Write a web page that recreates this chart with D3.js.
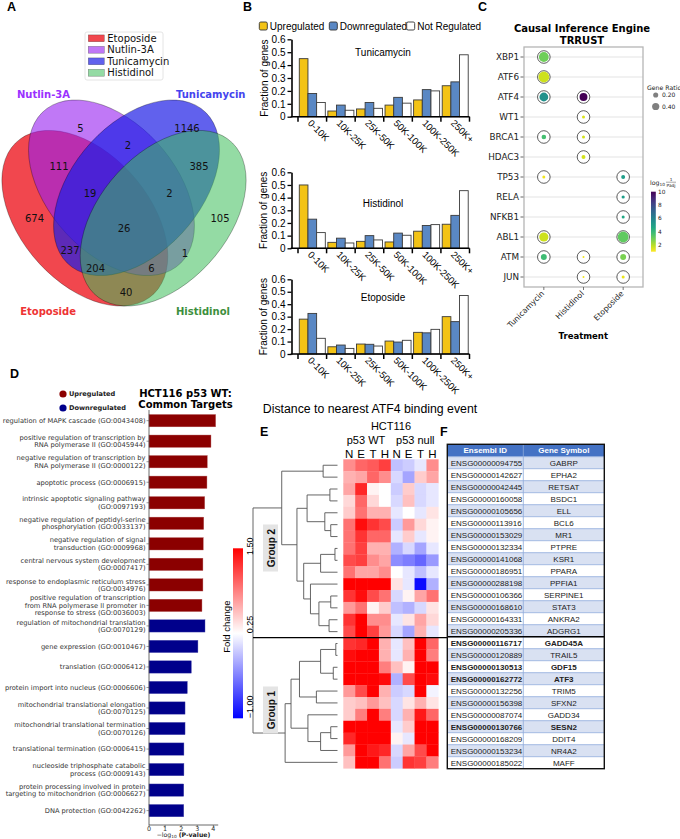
<!DOCTYPE html>
<html><head><meta charset="utf-8">
<script src="https://cdn.jsdelivr.net/npm/d3@7/dist/d3.min.js"></script>
<style>html,body{margin:0;padding:0;background:#fff;}svg{display:block;}</style>
</head><body>
<svg id="fig" width="680" height="839" xmlns="http://www.w3.org/2000/svg"></svg>
<script>
// ===================== DATA =====================
// Panel A – Venn
const vennSetNames = ["Etoposide", "Nutlin-3A", "Tunicamycin", "Histidinol"];
const vennRegions = ["1000","0100","0010","0001","1100","0110","0011","1110","0111","1111","1010","0101","1011","1101","1001"];
const vennCounts  = [674, 5, 1146, 105, 111, 2, 385, 19, 2, 26, 237, 1, 204, 6, 40];

// Panel B – distance bins
const distBins = ["0-10K", "10K-25K", "25K-50K", "50K-100K", "100K-250K", "250K+"];
const regClasses = ["Upregulated", "Downregulated", "Not Regulated"];
const tunUp   = [0.45, 0.044, 0.06, 0.09, 0.13, 0.24];
const tunDown = [0.18, 0.09, 0.11, 0.15, 0.21, 0.27];
const tunNot  = [0.11, 0.05, 0.065, 0.105, 0.20, 0.48];
const hisUp   = [0.50, 0.047, 0.055, 0.05, 0.135, 0.19];
const hisDown = [0.23, 0.08, 0.10, 0.12, 0.18, 0.26];
const hisNot  = [0.124, 0.042, 0.066, 0.103, 0.187, 0.455];
const etoUp   = [0.28, 0.058, 0.08, 0.104, 0.174, 0.30];
const etoDown = [0.326, 0.072, 0.078, 0.096, 0.17, 0.26];
const etoNot  = [0.126, 0.045, 0.064, 0.11, 0.198, 0.47];
const bTicks = [0, 0.1, 0.2, 0.3, 0.4, 0.5, 0.6];

// Panel C – TRRUST dot plot
const tfGenes = ["XBP1","ATF6","ATF4","WT1","BRCA1","HDAC3","TP53","RELA","NFKB1","ABL1","ATM","JUN"];
const treatments = ["Tunicamycin", "Histidinol", "Etoposide"];
const dotGene  = ["XBP1","ATF6","ATF4","ATF4","WT1","BRCA1","BRCA1","HDAC3","TP53","TP53","RELA","NFKB1","ABL1","ABL1","ATM","ATM","ATM","JUN","JUN"];
const dotTreat = ["Tunicamycin","Tunicamycin","Tunicamycin","Histidinol","Histidinol","Tunicamycin","Histidinol","Histidinol","Tunicamycin","Etoposide","Etoposide","Etoposide","Tunicamycin","Etoposide","Tunicamycin","Histidinol","Etoposide","Histidinol","Etoposide"];
const dotRatio = [0.74, 0.90, 0.60, 0.48, 0.07, 0.16, 0.07, 0.12, 0.07, 0.12, 0.08, 0.07, 0.65, 0.90, 0.27, 0.03, 0.27, 0.03, 0.07];
const dotLogP  = [3.0, 1.7, 5.5, 10.0, 1.5, 3.7, 1.6, 1.6, 1.2, 5.0, 5.0, 4.6, 1.7, 3.2, 3.8, 1.2, 2.8, 1.2, 1.3];
const ratioLegend = [0.20, 0.40];
const logPTicks = [2, 4, 6, 8, 10];

// Panel D – GO terms
const goTerms = [
  "regulation of MAPK cascade (GO:0043408)",
  "positive regulation of transcription by\nRNA polymerase II (GO:0045944)",
  "negative regulation of transcription by\nRNA polymerase II (GO:0000122)",
  "apoptotic process (GO:0006915)",
  "intrinsic apoptotic signaling pathway\n(GO:0097193)",
  "negative regulation of peptidyl-serine\nphosphorylation (GO:0033137)",
  "negative regulation of signal\ntransduction (GO:0009968)",
  "central nervous system development\n(GO:0007417)",
  "response to endoplasmic reticulum stress\n(GO:0034976)",
  "positive regulation of transcription\nfrom RNA polymerase II promoter in\nresponse to stress (GO:0036003)",
  "regulation of mitochondrial translation\n(GO:0070129)",
  "gene expression (GO:0010467)",
  "translation (GO:0006412)",
  "protein import into nucleus (GO:0006606)",
  "mitochondrial translational elongation\n(GO:0070125)",
  "mitochondrial translational termination\n(GO:0070126)",
  "translational termination (GO:0006415)",
  "nucleoside triphosphate catabolic\nprocess (GO:0009143)",
  "protein processing involved in protein\ntargeting to mitochondrion (GO:0006627)",
  "DNA protection (GO:0042262)"
];
const goDir = ["Upregulated","Upregulated","Upregulated","Upregulated","Upregulated","Upregulated","Upregulated","Upregulated","Upregulated","Upregulated",
               "Downregulated","Downregulated","Downregulated","Downregulated","Downregulated","Downregulated","Downregulated","Downregulated","Downregulated","Downregulated"];
const goLogP = [4.14, 3.85, 3.62, 3.60, 3.46, 3.40, 3.37, 3.35, 3.35, 3.29, 3.48, 3.04, 2.63, 2.38, 2.24, 2.24, 2.17, 2.17, 2.16, 2.16];
const dTicks = [0, 1, 2, 3, 4];

// Panel E – heatmap (fold change), columns N E T H (p53 WT) | N E T H (p53 null)
const heatCols = ["N","E","T","H","N","E","T","H"];
const foldChange = [
  [0.81,1.00,1.06,1.19,-0.06,0.00,0.13,0.81],
  [0.63,0.69,1.00,0.81,0.06,-0.19,0.50,0.69],
  [0.69,1.31,0.31,0.25,0.00,0.50,0.06,0.13],
  [0.44,1.00,0.44,0.25,0.06,0.56,0.06,0.13],
  [0.50,0.94,0.63,0.63,0.13,0.25,0.13,0.38],
  [0.94,1.44,1.25,1.13,0.00,0.75,0.44,0.31],
  [0.94,1.25,1.00,1.00,0.13,0.50,0.13,0.31],
  [0.94,1.19,0.63,0.63,-0.13,0.06,-0.19,0.13],
  [1.13,1.19,0.81,0.69,-0.31,-0.38,-0.50,-0.25],
  [0.94,0.69,0.69,0.81,0.25,0.13,-0.06,0.13],
  [1.60,1.60,1.60,1.60,0.38,0.13,-0.94,-0.13],
  [1.25,1.44,1.13,0.94,0.06,0.31,0.69,0.94],
  [0.75,0.94,0.31,0.50,-0.06,-0.13,0.06,0.38],
  [1.25,1.60,0.81,0.81,0.13,0.38,0.69,0.44],
  [1.13,1.60,1.19,0.75,0.06,-0.19,0.63,0.13],
  [1.25,1.31,1.60,0.63,0.13,0.56,1.60,1.00],
  [1.44,1.60,1.60,0.63,0.13,0.63,1.60,0.88],
  [1.60,1.60,1.60,0.88,0.56,0.31,1.60,1.60],
  [1.60,1.60,1.60,1.44,-0.13,1.13,1.60,1.44],
  [0.75,1.13,1.60,0.63,0.00,0.06,1.60,0.19],
  [0.50,0.56,0.75,0.56,0.06,0.38,0.63,0.38],
  [0.50,0.88,1.60,0.88,0.06,0.63,1.38,1.00],
  [1.60,1.60,1.60,1.60,0.13,0.50,1.60,1.60],
  [1.31,1.60,1.60,1.60,0.31,0.13,1.60,1.60],
  [0.75,1.60,1.38,1.31,0.06,0.69,1.13,1.60],
  [0.56,1.60,1.60,0.94,0.00,1.25,1.19,0.88]
];
const fcTicks = [1.5, 0.25, -1.0];
// dendrogram (leaf = row index, h = linkage height, relative)
const dendroGroup2 = {h:0.66, c:[{h:0.17, c:[0,1]},
  {h:0.48, c:[{h:0.36, c:[{h:0.09, c:[2,3]}, {h:0.15, c:[4, {h:0.08, c:[5,6]}]}]},
              {h:0.40, c:[{h:0.20, c:[{h:0.03, c:[7,8]}, 9]},
                          {h:0.32, c:[10, {h:0.22, c:[{h:0.08, c:[11,12]}, {h:0.10, c:[13,14]}]}]}]}]}]};
const dendroGroup1 = {h:0.62, c:[{h:0.55, c:[{h:0.45, c:[{h:0.20, c:[{h:0.02, c:[15,16]}, {h:0.05, c:[17,18]}]}, {h:0.25, c:[19,20]}]},
                                          {h:0.35, c:[21, {h:0.20, c:[{h:0.08, c:[22,23]}, 24]}]}]}, 25]};

// Panel F – table
const ensemblIds = ["ENSG00000094755","ENSG00000142627","ENSG00000042445","ENSG00000160058","ENSG00000105656","ENSG00000113916","ENSG00000153029","ENSG00000132334","ENSG00000141068","ENSG00000186951","ENSG00000288198","ENSG00000106366","ENSG00000168610","ENSG00000164331","ENSG00000205336","ENSG00000116717","ENSG00000120889","ENSG00000130513","ENSG00000162772","ENSG00000132256","ENSG00000156398","ENSG00000087074","ENSG00000130766","ENSG00000168209","ENSG00000153234","ENSG00000185022"];
const geneSymbols = ["GABRP","EPHA2","RETSAT","BSDC1","ELL","BCL6","MR1","PTPRE","KSR1","PPARA","PPFIA1","SERPINE1","STAT3","ANKRA2","ADGRG1","GADD45A","TRAIL5","GDF15","ATF3","TRIM5","SFXN2","GADD34","SESN2","DDIT4","NR4A2","MAFF"];
const boldGenes = ["GADD45A","GDF15","ATF3","SESN2"];
const group2Count = 15;

// ===================== DRAWING =====================
const FM = "'DejaVu Sans', sans-serif";
const FA = "'Liberation Sans', Arial, sans-serif";
const svg = d3.select("#fig");
svg.append("rect").attr("width",680).attr("height",839).attr("fill","#fff");

function T(g, x, y, s, o = {}) {
  const t = g.append("text").attr("x", x).attr("y", y).text(s)
    .attr("font-family", o.ff || FA).attr("font-size", o.fs || 10).attr("fill", o.fill || "#000");
  if (o.anchor) t.attr("text-anchor", o.anchor);
  if (o.fw) t.attr("font-weight", o.fw);
  if (o.db) t.attr("dominant-baseline", o.db);
  if (o.rot !== undefined) t.attr("transform", `rotate(${o.rot},${x},${y})`);
  return t;
}
[["A",7,11],["B",243,11],["C",478,11],["D",10,378],["E",260,436],["F",440,436]].forEach(([l,x,y]) =>
  T(svg, x, y, l, {fs:12.5, fw:"bold"}));

// ---------- Panel A ----------
(function(){
  const g = svg.append("g");
  const vx = d3.scaleLinear().domain([0.039, 0.955]).range([2, 246]);
  const vy = d3.scaleLinear().domain([0.1115, 0.7885]).range([306, 100]);
  const ell = [{cx:0.350, cy:0.400, a:140}, {cx:0.450, cy:0.500, a:140}, {cx:0.544, cy:0.500, a:40}, {cx:0.644, cy:0.400, a:40}];
  const fills = ["rgb(235,0,10)", "rgb(150,30,240)", "rgb(30,30,230)", "rgb(60,190,90)"];
  const alphas = [0.72, 0.6, 0.7, 0.55];
  const nameCol = ["#ee3333", "#9b30ff", "#4444ee", "#3d8f3d"];
  const kx = vx(1) - vx(0), ky = vy(0) - vy(1);
  const ge = g.append("g").attr("transform", `translate(${vx(0)},${vy(0)}) scale(${kx},${-ky})`);
  ell.forEach((e, i) => {
    ge.append("ellipse").attr("cx", e.cx).attr("cy", e.cy).attr("rx", 0.36).attr("ry", 0.225)
      .attr("transform", `rotate(${e.a},${e.cx},${e.cy})`)
      .attr("fill", fills[i]).attr("fill-opacity", alphas[i])
      .attr("stroke", "rgba(0,0,0,0.5)").attr("stroke-width", 0.6).attr("vector-effect", "non-scaling-stroke");
  });
  const pos = {"1000":[34.5,218],"0100":[80.5,128],"0010":[187,128],"0001":[220,218],"1100":[59,166],"0110":[128,145],
    "0011":[199,166],"1110":[90,193],"0111":[169.5,193],"1111":[124,228],"1010":[70,250],"0101":[185,253],
    "1011":[95.5,268],"1101":[151.5,268],"1001":[126,292]};
  vennRegions.forEach((r, i) => T(g, pos[r][0], pos[r][1] + 3.6, String(vennCounts[i]), {ff:FM, fs:10, anchor:"middle", fill:"#111"}));
  T(g, 76, 315, vennSetNames[0], {ff:FM, fs:10, fw:"bold", anchor:"end", fill:nameCol[0]});
  T(g, 70, 98, vennSetNames[1], {ff:FM, fs:10, fw:"bold", anchor:"end", fill:nameCol[1]});
  T(g, 176, 98, vennSetNames[2], {ff:FM, fs:10, fw:"bold", anchor:"start", fill:nameCol[2]});
  T(g, 176, 315, vennSetNames[3], {ff:FM, fs:10, fw:"bold", anchor:"start", fill:nameCol[3]});
  g.append("rect").attr("x", 85).attr("y", 32).attr("width", 78).attr("height", 48).attr("rx", 2)
    .attr("fill", "#fff").attr("stroke", "#ddd").attr("stroke-width", 0.8);
  vennSetNames.forEach((n, i) => {
    const cy = 38.3 + i * 11.5;
    g.append("rect").attr("x", 88.3).attr("y", cy - 3.4).attr("width", 16).attr("height", 6.8)
      .attr("fill", fills[i]).attr("fill-opacity", alphas[i]).attr("stroke", "rgba(0,0,0,0.45)").attr("stroke-width", 0.5);
    T(g, 107.3, cy + 3.6, n, {ff:FM, fs:10, fill:"#111"});
  });
})();

// ---------- Panel B ----------
(function(){
  const g = svg.append("g");
  const regFill = ["#F3C316", "#5A88C4", "#FFFFFF"];
  const bx = d3.scaleBand().domain(distBins).range([298, 469.5]).paddingInner(0.09).paddingOuter(0.045);
  const bxi = d3.scaleBand().domain(regClasses).range([0, bx.bandwidth()]);
  const gap = bx.step() - bx.bandwidth();
  const panels = [
    {name:"Tunicamycin", s:[tunUp, tunDown, tunNot], y0:116.7, y1:39.3, ty:56},
    {name:"Histidinol",  s:[hisUp, hisDown, hisNot], y0:248.3, y1:172.3, ty:207},
    {name:"Etoposide",   s:[etoUp, etoDown, etoNot], y0:354,   y1:279.3, ty:301}
  ];
  const AX = 291.5;
  panels.forEach(p => {
    const y = d3.scaleLinear().domain([0, 0.6]).range([p.y0, p.y1]);
    const sg = g.append("g");
    p.s.forEach((vals, si) => {
      sg.selectAll(null).data(vals).enter().append("rect")
        .attr("x", (d, i) => bx(distBins[i]) + bxi(regClasses[si]))
        .attr("y", d => y(d)).attr("width", bxi.bandwidth()).attr("height", d => y(0) - y(d))
        .attr("fill", regFill[si]).attr("stroke", "#3a3a3a").attr("stroke-width", 0.9);
    });
    const yAxis = d3.axisLeft(y).tickValues(bTicks).tickFormat(d => d === 0 ? "0" : d3.format(".1f")(d)).tickSize(4).tickSizeOuter(0).tickPadding(2);
    const ya = sg.append("g").attr("transform", `translate(${AX},0)`).call(yAxis);
    ya.select(".domain").attr("stroke-width", 1.6);
    ya.selectAll(".tick line").attr("stroke-width", 1.3);
    ya.selectAll(".tick text").attr("font-family", FA).attr("font-size", 10).attr("fill", "#000");
    sg.append("line").attr("x1", AX - 0.8).attr("x2", 469.5).attr("y1", p.y0).attr("y2", p.y0).attr("stroke", "#000").attr("stroke-width", 1.6);
    const bounds = distBins.map(b => bx(b) - gap / 2).concat([bx(distBins[distBins.length - 1]) + bx.bandwidth() + gap / 2]);
    sg.selectAll(null).data(bounds).enter().append("line")
      .attr("x1", d => d).attr("x2", d => d).attr("y1", p.y0).attr("y2", p.y0 + 5).attr("stroke", "#000").attr("stroke-width", 1.5);
    distBins.forEach(b => {
      const cx = bx(b) + bx.bandwidth() / 2 - 5;
      T(sg, cx, p.y0 + 7, b, {fs:9.5, rot:45});
    });
    T(sg, 383, p.ty, p.name, {fs:10, anchor:"middle"});
    T(sg, 267.5, (p.y0 + p.y1) / 2, "Fraction of genes", {fs:10, anchor:"middle", rot:-90});
  });
  const lx = [259.3, 329.3, 406.7];
  regClasses.forEach((c, i) => {
    g.append("rect").attr("x", lx[i]).attr("y", 22).attr("width", 8).attr("height", 8).attr("rx", 1.5)
      .attr("fill", regFill[i]).attr("stroke", "#333").attr("stroke-width", 0.9);
    T(g, lx[i] + 10.5, 29.6, c, {fs:10});
  });
  T(g, 370, 413, "Distance to nearest ATF4 binding event", {fs:12.3, anchor:"middle"});
})();

// ---------- Panel C ----------
(function(){
  const g = svg.append("g");
  const cx = d3.scaleBand().domain(treatments).range([524, 643]);
  const cy = d3.scaleBand().domain(tfGenes).range([47, 287]);
  const rS = d3.scaleSqrt().domain([0, 1]).range([0, 5.7]);
  const col = v => d3.interpolateViridis(1 - (v - 1) / 9);
  T(g, 582, 31.5, "Causal Inference Engine", {ff:FM, fs:10, fw:"bold", anchor:"middle"});
  T(g, 582, 44, "TRRUST", {ff:FM, fs:10, fw:"bold", anchor:"middle"});
  tfGenes.forEach(gn => {
    const y = cy(gn) + cy.bandwidth() / 2;
    g.append("line").attr("x1", 520.5).attr("x2", 643).attr("y1", y).attr("y2", y).attr("stroke", "#e3e3e3").attr("stroke-width", 1.2);
    g.append("line").attr("x1", 520.5).attr("x2", 524).attr("y1", y).attr("y2", y).attr("stroke", "#555").attr("stroke-width", 0.8);
    T(g, 519, y + 3.2, gn, {ff:FM, fs:8.8, anchor:"end", fill:"#222"});
  });
  g.append("rect").attr("x", 524).attr("y", 47).attr("width", 119).attr("height", 240).attr("fill", "none").attr("stroke", "#b5b5b5").attr("stroke-width", 1.3);
  dotGene.forEach((gn, i) => {
    const x = cx(dotTreat[i]) + cx.bandwidth() / 2, y = cy(gn) + cy.bandwidth() / 2;
    g.append("circle").attr("cx", x).attr("cy", y).attr("r", 6.3).attr("fill", "#fff").attr("stroke", "#333").attr("stroke-width", 0.8);
    g.append("circle").attr("cx", x).attr("cy", y).attr("r", rS(dotRatio[i])).attr("fill", col(dotLogP[i]));
  });
  treatments.forEach(t => {
    const x = cx(t) + cx.bandwidth() / 2;
    g.append("line").attr("x1", x).attr("x2", x).attr("y1", 287).attr("y2", 290).attr("stroke", "#555").attr("stroke-width", 0.8);
    T(g, x + 1, 294, t, {ff:FM, fs:7.8, anchor:"end", rot:-45, fill:"#222"});
  });
  T(g, 583.3, 339, "Treatment", {ff:FM, fs:8.5, fw:"bold", anchor:"middle"});
  T(g, 647, 89.5, "Gene Ratio", {ff:FM, fs:6.2, fill:"#222"});
  ratioLegend.forEach((r, i) => {
    const y = 95 + i * 11.5;
    g.append("circle").attr("cx", 655.7).attr("cy", y).attr("r", rS(r)).attr("fill", "#808080");
    T(g, 662, y + 2.2, d3.format(".2f")(r), {ff:FM, fs:6, fill:"#222"});
  });
  const cb = d3.scaleLinear().domain([1, 10]).range([251.7, 191.7]);
  const defs = svg.append("defs");
  const grad = defs.append("linearGradient").attr("id", "vir").attr("x1", 0).attr("y1", 1).attr("x2", 0).attr("y2", 0);
  d3.range(0, 1.001, 0.1).forEach(t => grad.append("stop").attr("offset", t).attr("stop-color", d3.interpolateViridis(1 - t)));
  g.append("rect").attr("x", 651).attr("y", cb(10)).attr("width", 4.8).attr("height", cb(1) - cb(10)).attr("fill", "url(#vir)");
  logPTicks.forEach(v => T(g, 658, cb(v) + 2, String(v), {ff:FM, fs:5.8, fill:"#222"}));
  const lt = T(g, 650, 184.5, "log", {ff:FM, fs:6.2, fill:"#222"});
  lt.append("tspan").attr("font-size", 4.3).attr("dy", 1.5).text("10");
  T(g, 671, 181, "1", {ff:FM, fs:4.3, anchor:"middle", fill:"#222"});
  g.append("line").attr("x1", 666).attr("x2", 676).attr("y1", 182.2).attr("y2", 182.2).attr("stroke", "#222").attr("stroke-width", 0.4);
  T(g, 671, 186.8, "Padj", {ff:FM, fs:4.3, anchor:"middle", fill:"#222"});
})();

// ---------- Panel D ----------
(function(){
  const g = svg.append("g");
  const dy = d3.scaleLinear().domain([-0.52, 19.7]).range([410, 825]);
  const dx = d3.scaleLinear().domain([0, 4.3]).range([149, 218.2]);
  const dirCol = {"Upregulated":"#8B0000", "Downregulated":"#00008B"};
  const unit = dy(1) - dy(0);
  g.selectAll(null).data(goLogP).enter().append("rect")
    .attr("x", dx(0)).attr("y", (d, i) => dy(i) - 0.3 * unit).attr("width", d => dx(d) - dx(0)).attr("height", 0.6 * unit)
    .attr("fill", (d, i) => dirCol[goDir[i]]).attr("stroke", (d, i) => goDir[i] === "Upregulated" ? "#b05050" : "#5050b0").attr("stroke-width", 0.4);
  goTerms.forEach((t, i) => {
    const lines = t.split("\n");
    const lh = 7.5;
    const y0 = dy(i) - (lines.length - 1) * lh / 2;
    lines.forEach((ln, k) => T(g, 145.5, y0 + k * lh + 2.4, ln, {ff:FM, fs:6.7, anchor:"end", fill:"#333"}));
    g.append("line").attr("x1", 146.5).attr("x2", 149).attr("y1", dy(i)).attr("y2", dy(i)).attr("stroke", "#555").attr("stroke-width", 0.6);
  });
  g.append("line").attr("x1", 149).attr("x2", 149).attr("y1", 410).attr("y2", 825).attr("stroke", "#444").attr("stroke-width", 0.8);
  g.append("line").attr("x1", 149).attr("x2", 218.2).attr("y1", 825).attr("y2", 825).attr("stroke", "#444").attr("stroke-width", 0.8);
  dTicks.forEach(v => {
    g.append("line").attr("x1", dx(v)).attr("x2", dx(v)).attr("y1", 825).attr("y2", 827.5).attr("stroke", "#444").attr("stroke-width", 0.6);
    T(g, dx(v), 830.6, String(v), {ff:FM, fs:6.4, anchor:"middle", fill:"#333"});
  });
  const xl = T(g, 183.5, 837.4, "−log", {ff:FM, fs:6.2, anchor:"middle", fill:"#222"});
  xl.append("tspan").attr("font-size", 4.3).attr("dy", 0.5).text("10");
  xl.append("tspan").attr("dy", -0.5).text(" ");
  xl.append("tspan").attr("font-weight", "bold").text("(P-value)");
  [["Upregulated", 394], ["Downregulated", 408]].forEach(([n, y]) => {
    g.append("circle").attr("cx", 63).attr("cy", y).attr("r", 3.6).attr("fill", dirCol[n]);
    T(g, 69, y + 2.4, n, {ff:FM, fs:6.6, fw:"bold", fill:"#222"});
  });
  T(g, 185.5, 396.5, "HCT116 p53 WT:", {ff:FM, fs:10, fw:"bold", anchor:"middle"});
  T(g, 185.5, 408, "Common Targets", {ff:FM, fs:10, fw:"bold", anchor:"middle"});
})();

// ---------- Panel E ----------
(function(){
  const g = svg.append("g");
  const nRows = foldChange.length;
  const hy = d3.scaleBand().domain(d3.range(nRows)).range([459.3, 768.3]);
  const hx = d3.scaleBand().domain(d3.range(heatCols.length)).range([343.3, 438.3]);
  const fc = d3.scaleLinear().domain([-1, 0.25, 1.5]).range(["#0000ff", "#ffffff", "#ff0000"]).clamp(true);
  foldChange.forEach((row, r) => row.forEach((v, c) => {
    g.append("rect").attr("x", hx(c)).attr("y", hy(r)).attr("width", hx.bandwidth() + 0.3).attr("height", hy.bandwidth() + 0.3).attr("fill", fc(v));
  }));
  heatCols.forEach((c, i) => T(g, hx(i) + hx.bandwidth() / 2, 457.5, c, {fs:11.5, anchor:"middle"}));
  T(g, 391, 430, "HCT116", {fs:11, anchor:"middle"});
  T(g, 366, 444, "p53 WT", {fs:11, anchor:"middle"});
  T(g, 415.3, 444, "p53 null", {fs:11, anchor:"middle"});
  const dxs = d3.scaleLinear().domain([0, 1]).range([337.5, 253]);
  const leafY = i => hy(i) + hy.bandwidth() / 2;
  const root = {h:1, c:[dendroGroup2, dendroGroup1]};
  const dg = g.append("g").attr("stroke", "#555").attr("stroke-width", 0.9).attr("fill", "none");
  function draw(n) {
    if (typeof n === "number") return {y: leafY(n), h: 0};
    const ch = n.c.map(draw);
    const x = dxs(n.h);
    dg.append("line").attr("x1", x).attr("x2", x).attr("y1", ch[0].y).attr("y2", ch[1].y);
    ch.forEach(k => dg.append("line").attr("x1", x).attr("x2", dxs(k.h)).attr("y1", k.y).attr("y2", k.y));
    return {y: (ch[0].y + ch[1].y) / 2, h: n.h};
  }
  draw(root);
  const gl = [["Group 2", 548], ["Group 1", 710]];
  gl.forEach(([n, y]) => {
    g.append("rect").attr("x", 263).attr("y", y - 23.5).attr("width", 15).attr("height", 47).attr("fill", "#e4e4e4");
    T(g, 274.5, y, n, {fs:10, fw:"bold", anchor:"middle", rot:-90, fill:"#111"});
  });
  const sepY = hy(group2Count);
  g.append("line").attr("x1", 253).attr("x2", 448).attr("y1", sepY).attr("y2", sepY).attr("stroke", "#000").attr("stroke-width", 1.3);
  const cbs = d3.scaleLinear().domain([-1, 1.5]).range([718.3, 548.3]);
  const defs = svg.append("defs");
  const grad = defs.append("linearGradient").attr("id", "bwr").attr("x1", 0).attr("y1", 1).attr("x2", 0).attr("y2", 0);
  d3.range(0, 1.001, 0.05).forEach(t => grad.append("stop").attr("offset", t).attr("stop-color", fc(-1 + 2.5 * t)));
  g.append("rect").attr("x", 233).attr("y", cbs(1.5)).attr("width", 10).attr("height", cbs(-1) - cbs(1.5)).attr("fill", "url(#bwr)");
  fcTicks.forEach(v => {
    const y = cbs(v);
    const lab = d3.format(".2f")(v);
    if (v === 1.5) T(g, 253.3, y - 2, lab, {fs:9, anchor:"middle", rot:-90});
    else T(g, 253.3, y, lab, {fs:9, anchor:"start", rot:-90});
  });
  T(g, 230, 626.7, "Fold change", {fs:9.5, anchor:"middle", rot:-90});
})();

// ---------- Panel F ----------
(function(){
  const g = svg.append("g");
  const x0 = 447.3, x1 = 604.3, xm = 523.3, top = 444.3, hh = 12.4;
  const ry = d3.scaleBand().domain(d3.range(ensemblIds.length)).range([top + hh, top + hh + 12 * ensemblIds.length]);
  g.append("rect").attr("x", x0).attr("y", top).attr("width", x1 - x0).attr("height", hh).attr("fill", "#4472C4");
  T(g, (x0 + xm) / 2, top + 9, "Ensembl ID", {fs:8, fw:"bold", anchor:"middle", fill:"#fff"});
  T(g, (xm + x1) / 2, top + 9, "Gene Symbol", {fs:8, fw:"bold", anchor:"middle", fill:"#fff"});
  ensemblIds.forEach((id, i) => {
    const y = ry(i);
    g.append("rect").attr("x", x0).attr("y", y).attr("width", x1 - x0).attr("height", ry.bandwidth())
      .attr("fill", i % 2 === 0 ? "#D9E1F2" : "#FFFFFF");
    g.append("line").attr("x1", x0).attr("x2", x1).attr("y1", y).attr("y2", y).attr("stroke", "#8EA9DB").attr("stroke-width", 0.8);
    const b = boldGenes.includes(geneSymbols[i]);
    T(g, x0 + 3.4, y + 8.8, id, {fs:8, fw: b ? "bold" : null, fill:"#222"});
    T(g, (xm + x1) / 2, y + 8.8, geneSymbols[i], {fs:8, fw: b ? "bold" : null, anchor:"middle", fill:"#222"});
  });
  const bottom = ry(ensemblIds.length - 1) + ry.bandwidth();
  g.append("line").attr("x1", xm).attr("x2", xm).attr("y1", top).attr("y2", bottom).attr("stroke", "#8EA9DB").attr("stroke-width", 0.8);
  g.append("line").attr("x1", x0).attr("x2", x1).attr("y1", ry(group2Count)).attr("y2", ry(group2Count)).attr("stroke", "#000").attr("stroke-width", 1.4);
  g.append("rect").attr("x", x0).attr("y", top).attr("width", x1 - x0).attr("height", bottom - top).attr("fill", "none").attr("stroke", "#111").attr("stroke-width", 1.4);
})();
</script>
</body></html>
